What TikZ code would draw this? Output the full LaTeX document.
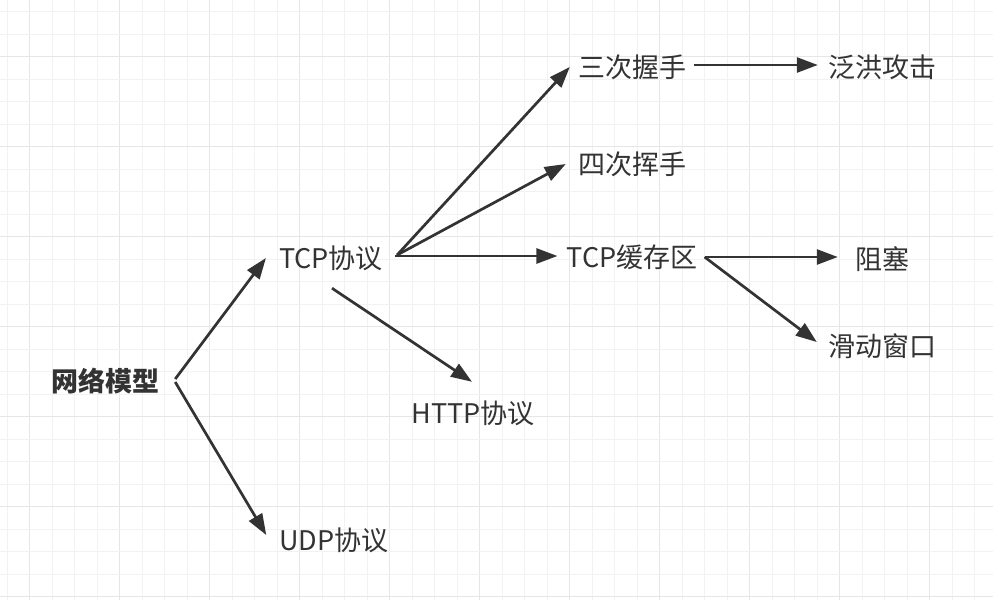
\documentclass[tikz,border=0pt]{standalone}
\usepackage{fontspec}
\setmainfont{Noto Sans CJK SC}
\usetikzlibrary{arrows.meta}
\definecolor{ink}{HTML}{333333}
\definecolor{gridminor}{HTML}{F2F2F2}
\definecolor{gridmajor}{HTML}{E6E6E6}
\begin{document}
\begin{tikzpicture}[x=1pt,y=-1pt,
  lbl/.style={inner sep=0pt,text height=24pt,text depth=4pt,font=\fontsize{27}{30}\selectfont,text=ink},
  arr/.style={draw=ink,line width=2.7pt,-{Triangle[length=21pt,width=15pt]}}]
\useasboundingbox (0,0) rectangle (993,600);
\fill[white] (0,0) rectangle (993,600);
% grid
\foreach \k in {0,...,44} {
  \pgfmathsetmacro{\xx}{7.2+22.5*\k}
  \pgfmathtruncatemacro{\m}{mod(\k,4)}
  \ifnum\m=1 \draw[gridmajor,line width=1.2pt] (\xx,0) -- (\xx,600);
  \else \draw[gridminor,line width=1pt] (\xx,0) -- (\xx,600); \fi
}
\foreach \k in {0,...,26} {
  \pgfmathsetmacro{\yy}{11.7+22.5*\k}
  \pgfmathtruncatemacro{\m}{mod(\k,4)}
  \ifnum\m=2 \draw[gridmajor,line width=1.2pt] (0,\yy) -- (993,\yy);
  \else \draw[gridminor,line width=1pt] (0,\yy) -- (993,\yy); \fi
}
% nodes
\node[lbl,font=\fontsize{27}{30}\selectfont\bfseries] (wl) at (105,381) {网络模型};
\node[lbl] (tcp) at (331,258) {TCP协议};
\node[lbl] (udp) at (334,540) {UDP协议};
\node[lbl] (http) at (473,413) {HTTP协议};
\node[lbl] (s3) at (632,67) {三次握手};
\node[lbl] (s4) at (632,164) {四次挥手};
\node[lbl] (buf) at (632,257) {TCP缓存区};
\node[lbl] (fh) at (882,67) {泛洪攻击};
\node[lbl] (zs) at (882,259) {阻塞};
\node[lbl] (hd) at (882,346) {滑动窗口};
% connectors
\draw[arr] ([xshift=16pt,yshift=2pt]wl.east) -- ([xshift=-13pt]tcp.west);
\draw[arr] ([xshift=16pt,yshift=-1pt]wl.east) -- ([xshift=-13pt,yshift=5pt]udp.west);
\draw[arr] ([xshift=14pt,yshift=3pt]tcp.east) -- ([xshift=-8pt]s3.west);
\draw[arr] ([xshift=14pt,yshift=3pt]tcp.east) -- ([xshift=-12pt]s4.west);
\draw[arr] ([xshift=12pt,yshift=2pt]tcp.east) -- ([xshift=-9pt,yshift=1pt]buf.west);
\draw[arr] ([xshift=1pt,yshift=-16pt]tcp.south) -- ([xshift=-1pt,yshift=17pt]http.north);
\draw[arr] ([xshift=8pt,yshift=2pt]s3.east) -- ([xshift=-10pt,yshift=2pt]fh.west);
\draw[arr] ([xshift=7pt]buf.east) -- ([xshift=-17pt,yshift=2pt]zs.west);
\draw[arr] ([xshift=7pt]buf.east) -- ([xshift=-11pt,yshift=4pt]hd.west);
\end{tikzpicture}
\end{document}
